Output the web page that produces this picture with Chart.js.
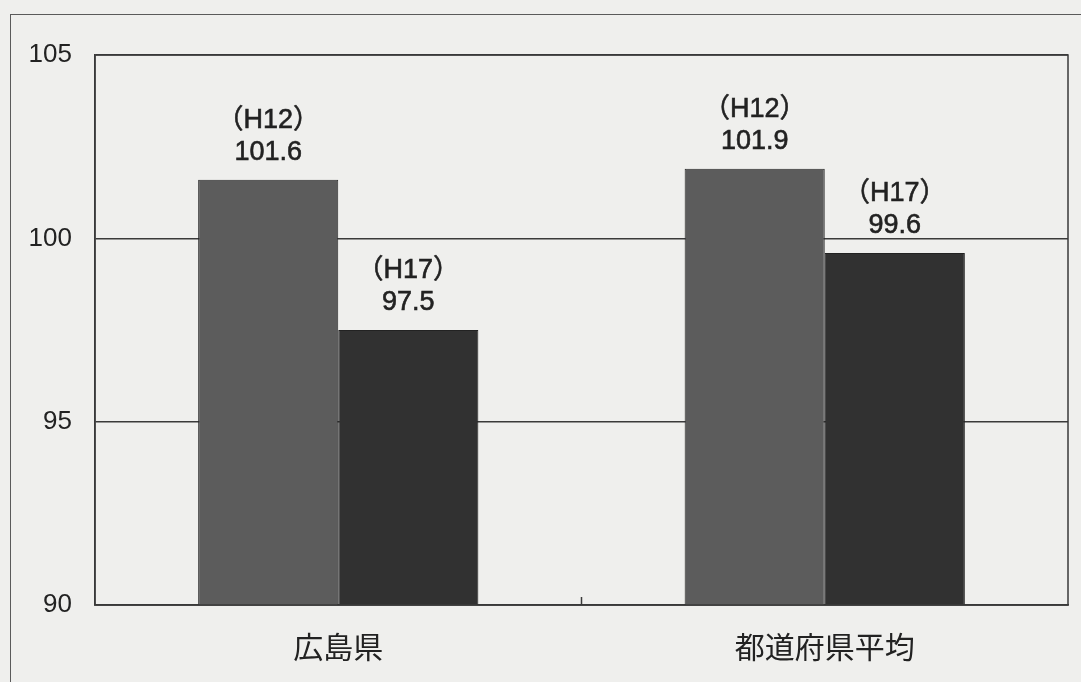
<!DOCTYPE html>
<html><head><meta charset="utf-8">
<script src="https://cdn.jsdelivr.net/npm/chart.js@4/dist/chart.umd.min.js"></script>
<style>
html,body{margin:0;padding:0;background:#efefed;}
#wrap{position:relative;width:1081px;height:682px;overflow:hidden;}
#frame{position:absolute;left:10px;top:14px;width:1200px;height:800px;border:1.5px solid #5a5a5a;box-sizing:border-box;}
canvas{position:absolute;left:0;top:0;}
</style></head>
<body><div id="wrap"><div id="frame"></div><canvas id="c" width="1081" height="682"></canvas></div>
<script>
const categories = ['広島県', '都道府県平均'];
const seriesNames = ['H12', 'H17'];
const h12Values = [101.6, 101.9];
const h17Values = [97.5, 99.6];
const yTicks = [90, 95, 100, 105];

const labelPlugin = {
  id: 'barLabels',
  afterDatasetsDraw(chart) {
    const ctx = chart.ctx;
    ctx.save();
    ctx.fillStyle = '#222222';
    ctx.strokeStyle = '#222222';
    ctx.lineWidth = 0.6;
    ctx.textAlign = 'center';
    ctx.textBaseline = 'middle';
    chart.data.datasets.forEach((ds, di) => {
      chart.getDatasetMeta(di).data.forEach((el, i) => {
        ctx.font = '27px "Liberation Sans", "Noto Sans CJK JP", sans-serif';
        const t1 = '（' + ds.label + '）';
        const t2 = ds.data[i].toFixed(1);
        ctx.fillText(t1, el.x, el.y - 59);
        ctx.strokeText(t1, el.x, el.y - 59);
        ctx.fillText(t2, el.x, el.y - 27);
        ctx.strokeText(t2, el.x, el.y - 27);
      });
    });
    ctx.restore();
  }
};
const framePlugin = {
  id: 'plotFrame',
  afterDraw(chart) {
    const {ctx, chartArea: a} = chart;
    const xs = chart.scales.x;
    ctx.save();
    ctx.strokeStyle = '#3a3a3a';
    ctx.lineWidth = 1.5;
    ctx.strokeRect(a.left, a.top, a.right - a.left, a.bottom - a.top);
    const mid = (xs.getPixelForValue(0) + xs.getPixelForValue(1)) / 2;
    ctx.beginPath();
    ctx.moveTo(mid, a.bottom);
    ctx.lineTo(mid, a.bottom - 8);
    ctx.stroke();
    ctx.restore();
  }
};

new Chart(document.getElementById('c'), {
  type: 'bar',
  data: {
    labels: categories,
    datasets: [
      {label: seriesNames[0], data: h12Values, backgroundColor: '#5c5c5c', borderColor: '#2a2a2a', borderWidth: 1},
      {label: seriesNames[1], data: h17Values, backgroundColor: '#313131', borderColor: '#222222', borderWidth: 1}
    ]
  },
  options: {
    responsive: false,
    animation: false,
    layout: {padding: {left: 0, top: 55, right: 13, bottom: 0}},
    plugins: {legend: {display: false}, tooltip: {enabled: false}},
    datasets: {bar: {categoryPercentage: 0.576, barPercentage: 1.0}},
    scales: {
      x: {
        grid: {display: false, drawTicks: false},
        border: {display: true, color: '#3a3a3a', width: 1.5},
        ticks: {color: '#222222', padding: 24, font: {family: '"Noto Sans CJK JP", sans-serif', size: 30}},
        afterFit(s) { s.height = 77; }
      },
      y: {
        min: yTicks[0], max: yTicks[yTicks.length - 1],
        afterBuildTicks(s) { s.ticks = yTicks.map(v => ({value: v})); },
        grid: {color: '#3a3a3a', lineWidth: 1.5, drawTicks: false},
        border: {display: true, color: '#3a3a3a', width: 1.5},
        ticks: {color: '#222222', padding: 23, font: {family: '"Liberation Sans", sans-serif', size: 26}},
        afterFit(s) { s.width = 95; }
      }
    }
  },
  plugins: [labelPlugin, framePlugin]
});
</script></body></html>
